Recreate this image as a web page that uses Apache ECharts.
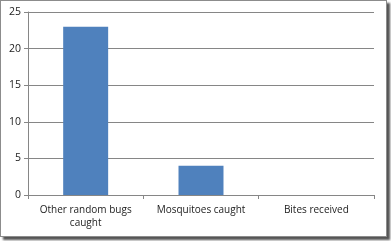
<!DOCTYPE html>
<html><head><meta charset="utf-8">
<script src="https://cdn.jsdelivr.net/npm/echarts@6/dist/echarts.min.js"></script>
<style>
html,body{margin:0;padding:0;background:#fff;}
#frame{position:absolute;left:0;top:0;width:385px;height:235px;border:1px solid #8c8c8c;box-shadow:3px 3px 2px #555;background:#fff;}
#c{width:385px;height:235px;}
</style></head>
<body><div id="frame"><div id="c"></div></div>
<script>
const categories = ["Other random bugs\ncaught", "Mosquitoes caught", "Bites received"];
const values = [23, 4, 0];
const yTicks = [0, 5, 10, 15, 20, 25];

const chart = echarts.init(document.getElementById('c'));
chart.setOption({
  animation: false,
  grid: {left: 27, right: 12, top: 11, bottom: 41},
  xAxis: {
    type: 'category', data: categories,
    axisLine: {lineStyle: {color: '#868686'}},
    axisTick: {show: true, alignWithLabel: false, length: 4, lineStyle: {color: '#868686'}},
    axisLabel: {color: '#222', fontFamily: 'Open Sans', fontSize: 10, margin: 9, lineHeight: 13, interval: 0}
  },
  yAxis: {
    type: 'value', min: yTicks[0], max: yTicks[yTicks.length-1], interval: 5,
    axisLine: {show: true, lineStyle: {color: '#868686'}},
    axisTick: {show: true, length: 4, lineStyle: {color: '#868686'}},
    splitLine: {lineStyle: {color: '#868686'}},
    axisLabel: {color: '#222', fontFamily: 'Open Sans', fontSize: 10.5, margin: 7}
  },
  series: [{
    type: 'bar', data: values, barWidth: '39%',
    itemStyle: {color: '#4f81bd'}
  }]
});
</script></body></html>
